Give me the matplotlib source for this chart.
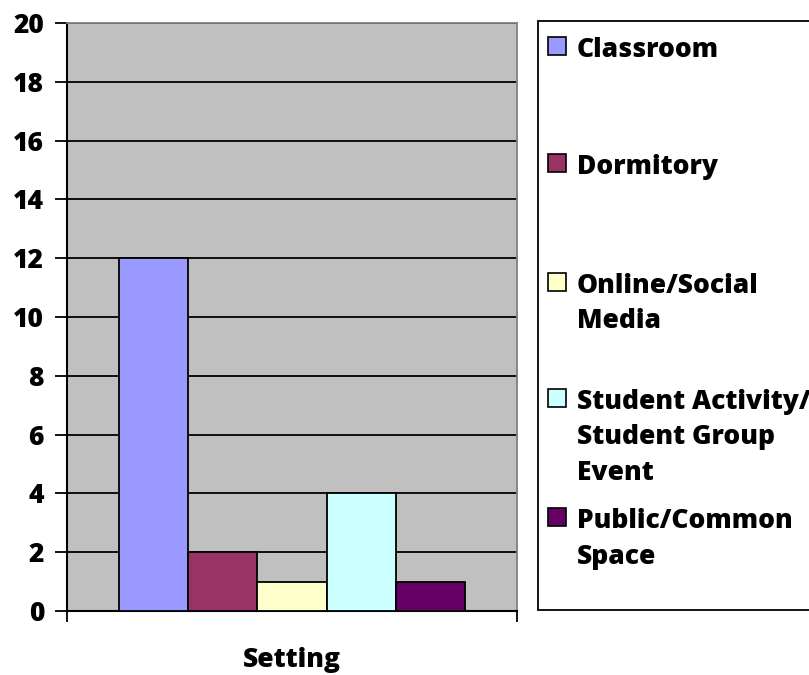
import matplotlib
matplotlib.use("Agg")
import matplotlib.pyplot as plt
from matplotlib.patches import Rectangle

categories = ["Classroom", "Dormitory", "Online/Social\nMedia",
              "Student Activity/\nStudent Group\nEvent", "Public/Common\nSpace"]
values = [12, 2, 1, 4, 1]
colors = ["#9999FF", "#993366", "#FFFFCC", "#CCFFFF", "#660066"]
yticks = [0, 2, 4, 6, 8, 10, 12, 14, 16, 18, 20]
xlabel = "Setting"

plt.rcParams['font.family'] = ['Open Sans', 'DejaVu Sans']
FS = 19
FW = 800
W, H = 809, 675
fig = plt.figure(figsize=(W/100, H/100), dpi=100)
ax = fig.add_axes([67/W, 1-611/H, 450/W, 588/H])
ax.set_facecolor("#C0C0C0")

n = len(values)
pos = [i - (n-1)/2 for i in range(n)]
ax.bar(pos, values, width=1.0, color=colors, edgecolor="black", linewidth=1.3, zorder=3)
ax.set_xlim(-3.26, 3.26)
ax.set_ylim(0, 20)
ax.set_yticks(yticks)
ax.set_yticklabels([str(t) for t in yticks], fontsize=FS, fontweight=FW)
ax.yaxis.grid(True, color="black", linewidth=1.3, zorder=1)
ax.set_axisbelow(True)
ax.set_xticks([-3.26, 3.26])
ax.set_xticklabels(["", ""])
ax.tick_params(axis='y', direction='out', length=8.5, width=1.3, pad=8)
ax.tick_params(axis='x', direction='out', length=8, width=1.3)
for s in ['top', 'right']:
    ax.spines[s].set_color("#808080")
    ax.spines[s].set_linewidth(1.3)
for s in ['left', 'bottom']:
    ax.spines[s].set_color("black")
    ax.spines[s].set_linewidth(1.5)
fig.text(292/W, 1-667/H, xlabel, fontsize=FS, fontweight=FW, ha='center', va='baseline')

# legend box
fig.patches.append(Rectangle((538/W, 1-610/H), (W-538+5)/W, 589/H, transform=fig.transFigure,
                             facecolor="white", edgecolor="black", linewidth=1.3, clip_on=False))
baselines = [57, 174, 293, 409, 528]
pitch = 35.5
for lab, col, bl in zip(categories, colors, baselines):
    fig.patches.append(Rectangle((548/W, 1-(bl-2)/H), 18/W, 18/H, transform=fig.transFigure,
                                 facecolor=col, edgecolor="black", linewidth=1.2))
    for k, line in enumerate(lab.split("\n")):
        fig.text(577/W, 1-(bl + k*pitch)/H, line, fontsize=FS, fontweight=FW,
                 va='baseline', ha='left')

fig.savefig("out.png", dpi=100)
